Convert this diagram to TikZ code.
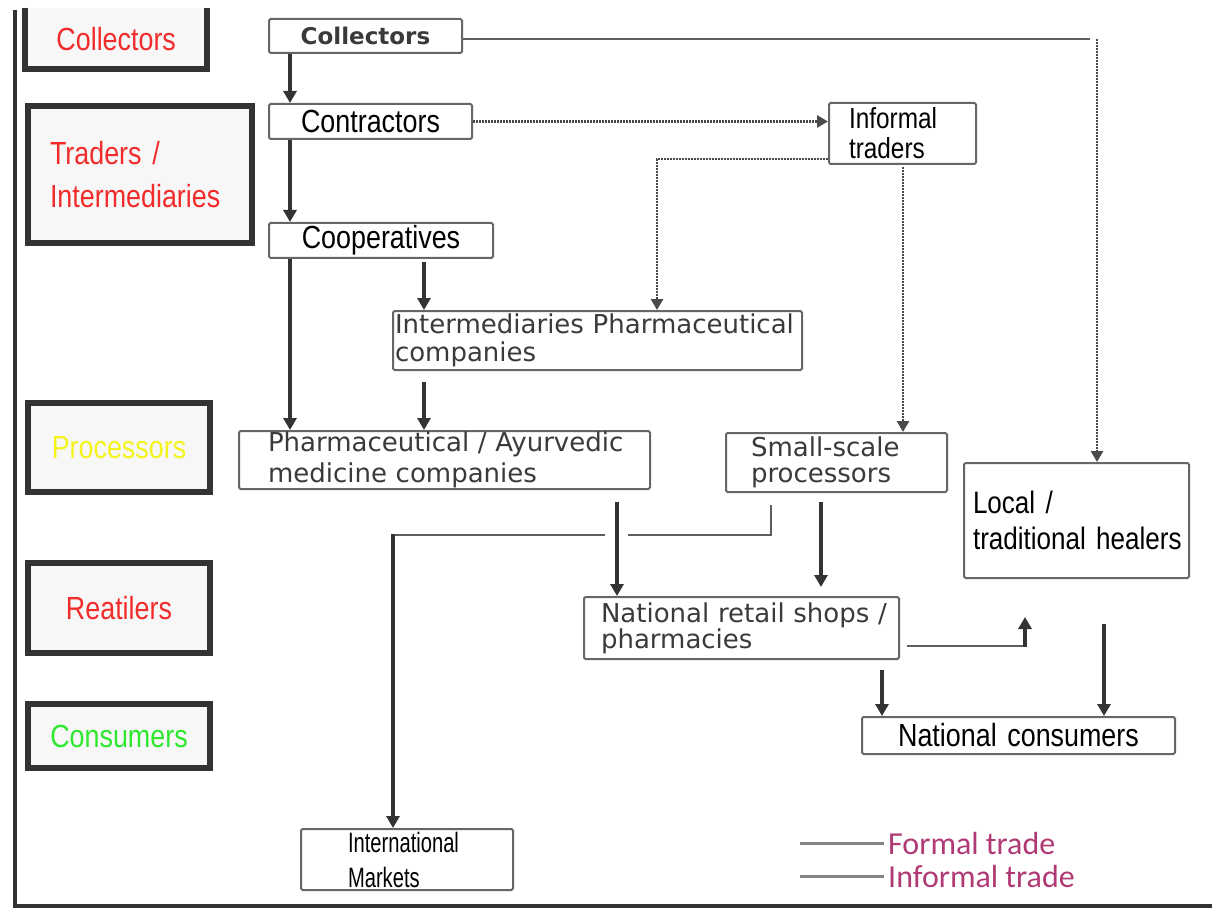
\documentclass[tikz,border=0pt]{standalone}
\usepackage{fontspec}
\setmainfont{DejaVu Sans}
\newfontfamily\cond[FakeStretch=0.84]{Liberation Sans}
\newfontfamily\condn[FakeStretch=0.72]{Liberation Sans}
\newfontfamily\calib{Carlito}
\usetikzlibrary{arrows.meta,calc}
\definecolor{dark}{HTML}{333333}
\definecolor{boxgray}{HTML}{666666}
\definecolor{lgray}{HTML}{5E5E5E}
\definecolor{dgray}{HTML}{4A4A4A}
\definecolor{tgray}{HTML}{3A3A3A}
\definecolor{lfill}{HTML}{F7F7F7}
\definecolor{labred}{HTML}{F22B2B}
\definecolor{labyellow}{HTML}{F4F41C}
\definecolor{labgreen}{HTML}{2EE82E}
\definecolor{legc}{HTML}{B03A75}
\tikzset{
  wh/.style 2 args={minimum width=#1, minimum height=#2, text width=#1},
  rbox/.style={draw=boxgray, line width=2, rounded corners=1.5, fill=white,
    inner xsep=0, inner ysep=0, anchor=north west, align=left},
  lbox/.style={fill=lfill, inner xsep=0, inner ysep=0, anchor=north west, align=center,
    font=\cond\fontsize{32}{43}\selectfont},
  lborder/.style={draw=dark, line width=6},
  arr/.style={draw=dark, line width=3.5, -{Triangle[width=13pt,length=12pt]}},
  formal/.style={draw=lgray, line width=2.5},
  dotln/.style={draw=dgray, line width=2.6, dash pattern=on 2pt off 1pt},
  dotarr/.style={dotln, -{Triangle[width=12pt,length=11pt]}},
  legline/.style={draw=boxgray!80, line width=3},
  dvfont/.style={font=\fontsize{26}{#1}\selectfont, text=tgray},
  cfont/.style={font=\cond\fontsize{32}{#1}\selectfont, text=black}
}
\begin{document}
\begin{tikzpicture}[x=1pt,y=-1pt]
\useasboundingbox (0,0) rectangle (1212,909);
\fill[white] (0,0) rectangle (1212,909);

% frame
\draw[line width=4, dark] (15,10) -- (15,906) -- (1212,906);

% left level boxes
\node[lbox, wh={182}{61}, text=labred] (lcol) at (25,8) {Collectors};
\draw[lborder] (lcol.north west) -- (lcol.south west) -- (lcol.south east) -- (lcol.north east);
\node[lbox, lborder, wh={224}{137}, align=left, text=labred] (ltra) at (25,103)
  {\hspace*{22pt}Traders /\\\hspace*{22pt}Intermediaries};
\node[lbox, lborder, wh={182}{89}, text=labyellow] (lpro) at (25,400) {Processors};
\node[lbox, lborder, wh={182}{90}, text=labred] (lret) at (25,560) {Reatilers};
\node[lbox, lborder, wh={182}{64}, text=labgreen] (lcon) at (25,701) {Consumers};

% chain nodes
\node[rbox, wh={193}{34}, align=center, font=\bfseries\fontsize{23}{26}\selectfont, text=tgray] (colR) at (268,18) {Collectors};
\node[rbox, wh={203}{35}, align=center, cfont=34] (conR) at (268,103) {Contractors};
\node[rbox, wh={224}{35}, align=center, cfont=34] (coopR) at (268,222) {Cooperatives};
\node[rbox, wh={147}{61}, font=\cond\fontsize{29}{30}\selectfont, text=black] (infR) at (828,102)
  {\hspace*{20pt}Informal\\\hspace*{20pt}traders};
\node[rbox, wh={409}{59}, dvfont=28] (intR) at (392,310)
  {\hspace*{2pt}Intermediaries Pharmaceutical\\\hspace*{2pt}companies};
\node[rbox, wh={411}{58}, dvfont=31] (phR) at (238,430)
  {\hspace*{29pt}Pharmaceutical / Ayurvedic\\\hspace*{29pt}medicine companies};
\node[rbox, wh={221}{59}, dvfont=26] (ssR) at (725,432)
  {\hspace*{25pt}Small-scale\\\hspace*{25pt}processors};
\node[rbox, wh={225}{115}, font=\cond\fontsize{31}{36}\selectfont, text=black] (locR) at (963,462)
  {\hspace*{9pt}Local /\\\hspace*{9pt}traditional healers\\[12pt]};
\node[rbox, wh={315}{62}, dvfont=25] (natR) at (583,596)
  {\hspace*{17pt}National retail shops /\\\hspace*{17pt}pharmacies\\[4pt]};
\node[rbox, wh={313}{37}, align=center, cfont=34] (ncR) at (861,716) {National consumers};
\node[rbox, wh={212}{61}, font=\condn\fontsize{28}{35}\selectfont, text=black] (imR) at (300,828)
  {\hspace*{47pt}International\\\hspace*{47pt}Markets};

% formal solid arrows in the chain
\coordinate (a1) at ($(colR.south west)+(22,0)$);
\draw[arr] (a1) -- (a1 |- conR.north);
\coordinate (a2) at ($(conR.south west)+(22,0)$);
\draw[arr] (a2) -- (a2 |- coopR.north);
\coordinate (a3) at ($(coopR.south west)+(22,0)$);
\draw[arr] (a3) -- (a3 |- phR.north);
\coordinate (a4) at ($(coopR.south west)+(156,3)$);
\draw[arr] (a4) -- (a4 |- intR.north);
\coordinate (a5) at ($(intR.south west)+(32,11)$);
\draw[arr] (a5) -- (a5 |- phR.north);

% informal (dotted) links
\draw[dotarr] (conR.east) -- (conR.east -| infR.west);
\coordinate (d1) at ($(infR.south west)+(0,-6)$);
\coordinate (d1b) at ($(intR.north west)+(265,0)$);
\draw[dotarr] (d1) -| (d1b);
\coordinate (d2) at ($(infR.south west)+(75,2)$);
\draw[dotarr] (d2) -- (d2 |- ssR.north);

% collectors to healers
\coordinate (e0) at ($(colR.east)+(0,3)$);
\coordinate (k) at ($(locR.north west)+(134,0)$);
\draw[formal] (e0) -- ($(e0 -| k)+(-7,0)$);
\draw[dotarr] (e0 -| k) -- (k);

% processors to retail
\coordinate (p1) at ($(phR.south west)+(379,12)$);
\draw[arr] (p1) -- (p1 |- natR.north);
\coordinate (q1) at ($(ssR.south west)+(96,9)$);
\draw[arr] (q1) -- ($(q1 |- natR.north)+(0,-9)$);

% small-scale processors to international markets
\coordinate (s1) at ($(ssR.south west)+(46,12)$);
\coordinate (s2) at ($(s1)+(0,30)$);
\coordinate (g1) at ($(p1 |- s2)+(11,0)$);
\coordinate (g2) at ($(p1 |- s2)+(-12,0)$);
\coordinate (s3) at ($(imR.north west)+(93,0)$);
\coordinate (s4) at (s3 |- s2);
\draw[formal] (s1) -- (s2) -- (g1);
\draw[formal] (g2) -- (s4);
\draw[arr] ($(s4)+(0,-1)$) -- (s3);

% retail to healers
\coordinate (n1) at ($(natR.east)+(7,18)$);
\coordinate (n2) at ($(locR.south west)+(62,38)$);
\draw[formal] (n1) -- ($(n1 -| n2)+(1.5,0)$);
\draw[arr] ($(n1 -| n2)+(0,1.2)$) -- (n2);

% to national consumers
\coordinate (r1) at ($(natR.south west)+(299,10)$);
\draw[arr] (r1) -- (r1 |- ncR.north);
\coordinate (l1) at ($(locR.south west)+(141,45)$);
\draw[arr] (l1) -- (l1 |- ncR.north);

% legend
\node[anchor=west, inner sep=0, font=\calib\fontsize{32}{34}\selectfont, text=legc] (lf) at (888,843) {Formal trade};
\node[anchor=west, inner sep=0, font=\calib\fontsize{32}{34}\selectfont, text=legc] (li) at (888,876) {Informal trade};
\draw[legline] ($(lf.west)+(-88,0)$) -- ($(lf.west)+(-4,0)$);
\draw[legline] ($(li.west)+(-88,0)$) -- ($(li.west)+(-4,0)$);
\end{tikzpicture}
\end{document}
